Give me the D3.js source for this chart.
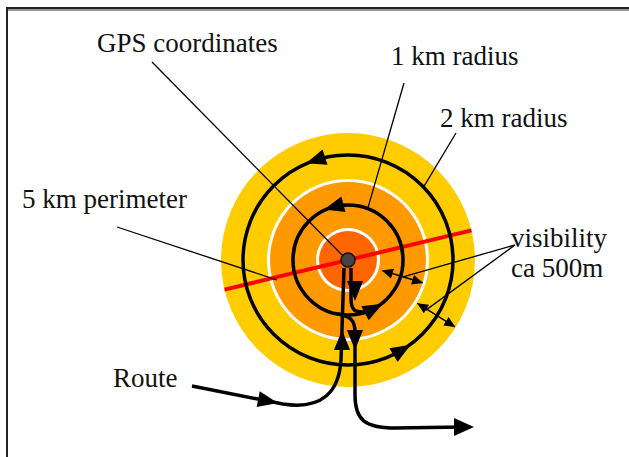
<!DOCTYPE html>
<html>
<head>
<meta charset="utf-8">
<script src="https://cdn.jsdelivr.net/npm/d3@7"></script>
<style>
  body { margin: 0; background: #fff; }
</style>
</head>
<body>
<div id="chart"></div>
<script>
// search zones, in km from the GPS point
var zoneKm = [2.44, 1.52, 1.46, 0.54, 0.48];
var zoneColors = ["#ffcc00", "#ffffff", "#ff9900", "#ffffff", "#ff6600"];

// route loops (km radius) and where the direction arrows sit on them (degrees)
var loopKm = [1, 2];
var loopArrowDeg = [[-105, 62], [-108, 59]];

// visibility double arrows: angle, from km, to km
var visAngle = [17, 32];
var visFrom = [0.62, 1.54];
var visTo = [1.46, 2.42];

var labels = ["GPS coordinates", "1 km radius", "2 km radius", "5 km perimeter", "visibility", "ca 500m", "Route"];

var width = 629,
    height = 457;
var cx = 348, cy = 260;

var r = d3.scaleLinear().domain([0, 1]).range([5, 55]);

function polar(km, deg) {
    var a = deg * Math.PI / 180;
    return [cx + r(km) * Math.cos(a), cy + r(km) * Math.sin(a)];
}

var svg = d3.select("#chart")
    .append("svg")
    .attr("width", width)
    .attr("height", height);

// frame
svg.append("line").attr("x1", 7).attr("y1", 10).attr("x2", width).attr("y2", 10)
    .attr("stroke", "#999").attr("stroke-width", 2);
svg.append("path")
    .attr("d", "M7," + height + "V8H" + width)
    .attr("fill", "none").attr("stroke", "#222").attr("stroke-width", 2);

// zones
svg.append("g")
    .selectAll("circle")
    .data(zoneKm)
    .enter().append("circle")
      .attr("cx", cx).attr("cy", cy)
      .attr("r", d => r(d))
      .attr("fill", (d, i) => zoneColors[i]);

// red perimeter line through the point
var redA = polar(2.44, 166.5), redB = polar(2.44, -13.5);
svg.append("line")
    .attr("x1", redA[0]).attr("y1", redA[1])
    .attr("x2", redB[0]).attr("y2", redB[1])
    .attr("stroke", "#ff0000").attr("stroke-width", 4);

function head(g, x, y, deg, len, w) {
    var a = deg * Math.PI / 180;
    var ux = Math.cos(a), uy = Math.sin(a);
    var tip = [x + ux * len / 2, y + uy * len / 2];
    var bx = x - ux * len / 2, by = y - uy * len / 2;
    g.append("path")
        .attr("d", "M" + tip + "L" + [bx - uy * w, by + ux * w] + "L" + [bx + uy * w, by - ux * w] + "Z")
        .attr("fill", "#000");
}

// leader lines
var leaders = svg.append("g").attr("stroke", "#000").attr("stroke-width", 1.3);
var p1 = polar(1, -69), p2 = polar(2, -44);
var v1 = polar(1.05, 17), v2 = polar(1.75, 33);
[
    [[152, 62], [345, 258]],
    [[404, 83], p1],
    [[456, 133], p2],
    [[117, 227], [277, 280]],
    [[515, 245], v1],
    [[515, 245], v2]
].forEach(function (l) {
    leaders.append("line")
        .attr("x1", l[0][0]).attr("y1", l[0][1])
        .attr("x2", l[1][0]).attr("y2", l[1][1]);
});

// visibility double arrows
var vis = svg.append("g");
visAngle.forEach(function (deg, i) {
    var a = polar(visFrom[i], deg), b = polar(visTo[i], deg);
    vis.append("line")
        .attr("x1", a[0]).attr("y1", a[1]).attr("x2", b[0]).attr("y2", b[1])
        .attr("stroke", "#000").attr("stroke-width", 1.5);
    head(vis, a[0] + 5 * Math.cos(deg * Math.PI / 180), a[1] + 5 * Math.sin(deg * Math.PI / 180), deg + 180, 11, 5);
    head(vis, b[0] - 5 * Math.cos(deg * Math.PI / 180), b[1] - 5 * Math.sin(deg * Math.PI / 180), deg, 11, 5);
});

// route loops
var route = svg.append("g");
route.selectAll("circle")
    .data(loopKm)
    .enter().append("circle")
      .attr("cx", cx).attr("cy", cy)
      .attr("r", d => r(d))
      .attr("fill", "none")
      .attr("stroke", "#000")
      .attr("stroke-width", 3.5);

loopKm.forEach(function (km, i) {
    loopArrowDeg[i].forEach(function (deg) {
        var p = polar(km, deg);
        head(route, p[0], p[1], deg - 90, 20, 8);
    });
});

// route in and out
var entry = polar(1, 70), leave = polar(1, 101);
var routePaths = [
    "M192,386L283,404C322,410 339,392 341,360L344,268",
    "M351,268L351,298C351,311 355," + (entry[1] + 1) + " " + entry[0] + "," + entry[1],
    "M" + leave + "C350,316 355,320 355,332L355,395C355,420 365,428 395,428L462,427"
];
route.selectAll("path.route")
    .data(routePaths)
    .enter().append("path")
      .attr("class", "route")
      .attr("d", d => d)
      .attr("fill", "none")
      .attr("stroke", "#000")
      .attr("stroke-width", 3.5);

head(route, 268, 401, 11, 20, 8);
head(route, 342, 340, -90, 20, 8);
head(route, 355, 291, 90, 20, 8);
head(route, 355, 340, 90, 20, 8);
head(route, 464, 427, 0, 20, 9);

// GPS point
svg.append("circle")
    .attr("cx", cx).attr("cy", cy).attr("r", 7)
    .attr("fill", "#444").attr("stroke", "#111").attr("stroke-width", 1.5);

// labels
var labelPos = [[97, 52], [391, 65], [440, 127], [22, 208], [511, 247], [511, 277], [113, 387]];
svg.append("g")
    .selectAll("text")
    .data(labels)
    .enter().append("text")
      .attr("x", (d, i) => labelPos[i][0])
      .attr("y", (d, i) => labelPos[i][1])
      .attr("font-family", "'Liberation Serif', 'DejaVu Serif', serif")
      .attr("font-size", 27)
      .attr("fill", "#111")
      .text(d => d);
</script>
</body>
</html>
